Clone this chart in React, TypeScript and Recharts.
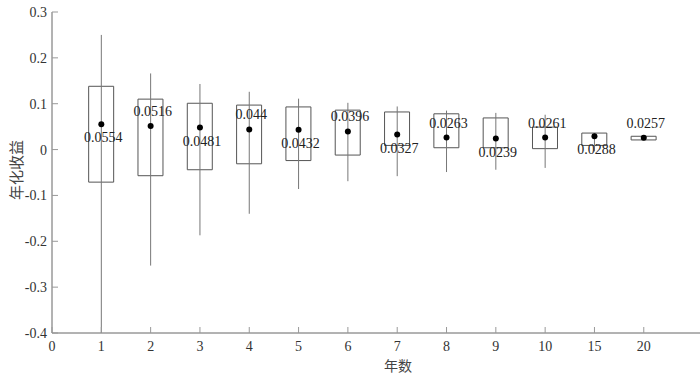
import React from "react";
import { ComposedChart, Bar, Scatter, ErrorBar, XAxis, YAxis } from "recharts";

// holding period (years) and annualized return stats
const years = ["1", "2", "3", "4", "5", "6", "7", "8", "9", "10", "15", "20"];
const means = [0.0554, 0.0516, 0.0481, 0.044, 0.0432, 0.0396, 0.0327, 0.0263, 0.0239, 0.0261, 0.0288, 0.0257];
const boxLow = [-0.071, -0.057, -0.044, -0.031, -0.024, -0.012, 0.009, 0.004, 0.004, 0.002, 0.009, 0.021];
const boxHigh = [0.138, 0.11, 0.101, 0.097, 0.093, 0.086, 0.082, 0.078, 0.069, 0.049, 0.036, 0.029];
const whiskerLow = [-0.4, -0.253, -0.187, -0.14, -0.086, -0.069, -0.058, -0.049, -0.044, -0.04, -0.004, 0.022];
const whiskerHigh = [0.25, 0.166, 0.143, 0.126, 0.111, 0.102, 0.094, 0.085, 0.08, 0.076, 0.036, 0.028];
const xTickLabels = ["0", ...years];
const yTicks = [-0.4, -0.3, -0.2, -0.1, 0, 0.1, 0.2, 0.3];

const data = years.map((y, i) => ({
  pos: i + 1,
  year: y,
  mean: means[i],
  box: [boxLow[i], boxHigh[i]],
  err: [means[i] - whiskerLow[i], whiskerHigh[i] - means[i]],
}));

const serif = "'Liberation Serif', 'Times New Roman', serif";
const textColor = "#333";
const axisColor = "#666";

const XTick = (props: any) => {
  const { x, y, payload } = props;
  return (
    <g>
      <line x1={x} y1={y} x2={x} y2={y - 6} stroke="#999" />
      <text x={x} y={y + 18} textAnchor="middle" fontSize={14} fontFamily={serif} fill={textColor}>
        {xTickLabels[payload.value]}
      </text>
    </g>
  );
};

const YTick = (props: any) => {
  const { x, y, payload } = props;
  const v = payload.value;
  const label = Math.abs(v) < 1e-9 ? "0" : v.toFixed(1);
  return (
    <g>
      <line x1={x} y1={y} x2={x + 6} y2={y} stroke="#999" />
      <text x={x - 5} y={y + 5} textAnchor="end" fontSize={14} fontFamily={serif} fill={textColor}>
        {label}
      </text>
    </g>
  );
};

const MeanDot = (props: any) => {
  const { cx, cy, payload } = props;
  const idx = payload.pos - 1;
  const below = idx % 2 === 0;
  return (
    <g>
      <circle cx={cx} cy={cy} r={3} fill="#000" />
      <text
        x={cx + 2}
        y={below ? cy + 18 : cy - 10}
        textAnchor="middle"
        fontSize={14}
        fontFamily={serif}
        fill="#222"
      >
        {String(payload.mean)}
      </text>
    </g>
  );
};

const App = () => {
  return (
    <div style={{ position: "absolute", left: 0, top: 0, width: 700, height: 377, background: "#fff" }}>
      <ComposedChart width={700} height={377} data={data} margin={{ top: 12, right: 0, left: 0, bottom: 0 }}>
        <XAxis
          dataKey="pos"
          type="number"
          domain={[0, 13.14]}
          ticks={[0, 1, 2, 3, 4, 5, 6, 7, 8, 9, 10, 11, 12]}
          allowDataOverflow
          height={44}
          tickSize={0}
          tickMargin={0}
          tickLine={false}
          axisLine={{ stroke: axisColor }}
          tick={<XTick />}
          interval={0}
        />
        <YAxis
          type="number"
          domain={[-0.4, 0.3]}
          ticks={yTicks}
          allowDataOverflow
          width={52}
          tickSize={0}
          tickMargin={0}
          tickLine={false}
          axisLine={{ stroke: axisColor }}
          tick={<YTick />}
          interval={0}
        />
        <Bar dataKey="box" barSize={25} fill="none" stroke="#555" strokeWidth={1} isAnimationActive={false} />
        <Scatter dataKey="mean" shape={<MeanDot />} isAnimationActive={false}>
          <ErrorBar dataKey="err" direction="y" width={0} stroke="#777" strokeWidth={1} />
        </Scatter>
        <text
          x={15}
          y={170}
          transform="rotate(-90 15 170)"
          textAnchor="middle"
          dominantBaseline="central"
          fontSize={15}
          fontFamily="'Noto Sans CJK SC', sans-serif"
          fill="#444"
        >
          年化收益
        </text>
        <text
          x={398}
          y={371}
          textAnchor="middle"
          fontSize={14}
          fontFamily="'Noto Sans CJK SC', sans-serif"
          fill="#444"
        >
          年数
        </text>
      </ComposedChart>
    </div>
  );
};

export default App;
